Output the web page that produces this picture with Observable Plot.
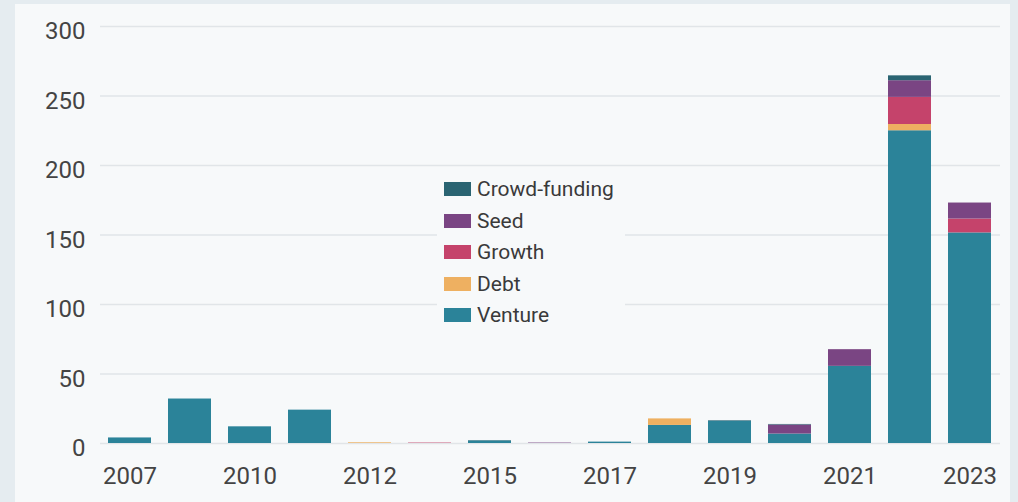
<!DOCTYPE html>
<html>
<head>
<meta charset="utf-8">
<script src="https://cdn.jsdelivr.net/npm/d3@7"></script>
<script src="https://cdn.jsdelivr.net/npm/@observablehq/plot@0.6"></script>
<style>
  html, body { margin: 0; padding: 0; background: #e5ecf0; }
  #wrap { position: relative; width: 1018px; height: 502px; overflow: hidden; }
  #panel { position: absolute; left: 15px; top: 4px; width: 995px; height: 498px; background: #f7f9fa; }
  #chart { position: absolute; left: 0; top: 0; }
  #chart svg { background: transparent; }
  #legend { position: absolute; left: 437px; top: 171px; width: 188px; height: 162px; background: #f7f9fa;
            font-family: Roboto, sans-serif; font-size: 21px; color: #3a3a3a; }
  .row { position: absolute; left: 7px; height: 24px; display: flex; align-items: center; }
  .sw { width: 27px; height: 14px; margin-right: 6px; }
</style>
</head>
<body>
<div id="wrap">
  <div id="panel"></div>
  <div id="chart"></div>
  <div id="legend"></div>
</div>
<script>
const years   = ["2007","2008","2010","2011","2012","2013","2015","2016","2017","2018","2019","2020","2021","2022","2023"];
const xLabels = ["2007","2010","2012","2015","2017","2019","2021","2023"];
const types   = ["Venture","Debt","Growth","Seed","Crowd-funding"];
const colors  = ["#2b8399","#eeb061","#c5436b","#7a4583","#2a6472"];
const venture = [4, 32, 12, 24, 0, 0, 1.8, 0, 1, 13, 16, 6.8, 55.5, 225, 151.5];
const debt    = [0, 0, 0, 0, 0.5, 0, 0, 0, 0, 4.7, 0, 0, 0, 4.5, 0];
const growth  = [0, 0, 0, 0, 0, 0.3, 0, 0, 0, 0, 0, 0, 0, 19.5, 10];
const seed    = [0, 0, 0, 0, 0, 0, 0, 0.3, 0, 0, 0, 6.5, 12, 12, 11.5];
const crowd   = [0, 0, 0, 0, 0, 0, 0.3, 0, 0, 0, 0.4, 0.4, 0, 3.5, 0];
const yTicks  = [0, 50, 100, 150, 200, 250, 300];

const series = {"Venture": venture, "Debt": debt, "Growth": growth, "Seed": seed, "Crowd-funding": crowd};
const data = [];
for (const t of types) {
  series[t].forEach((v, i) => { data.push({year: years[i], type: t, value: v}); });
}

const chart = Plot.plot({
  width: 1018,
  height: 502,
  marginLeft: 100,
  marginRight: 18,
  marginTop: 26,
  marginBottom: 59,
  style: {fontFamily: "Roboto, sans-serif", fontSize: "24px", color: "#444", background: "transparent"},
  x: {type: "band", domain: years, paddingInner: 0.28, paddingOuter: 0.14, label: null},
  y: {domain: [0, 300], label: null},
  color: {domain: types, range: colors},
  marks: [
    Plot.ruleY(yTicks, {stroke: "#e1e5e8", strokeWidth: 1.3}),
    Plot.barY(data, {x: "year", y: "value", fill: "type", order: types}),
    Plot.axisY({ticks: yTicks, tickSize: 0, tickPadding: 15, dy: 5, label: null}),
    Plot.axisX({ticks: xLabels, tickSize: 0, tickPadding: 23, label: null})
  ]
});
document.getElementById("chart").appendChild(chart);

const legend = document.getElementById("legend");
const legendOrder = types.slice().reverse();
legendOrder.forEach((t, i) => {
  const row = document.createElement("div");
  row.className = "row";
  row.style.top = (6 + i * 31.5) + "px";
  const sw = document.createElement("div");
  sw.className = "sw";
  sw.style.background = colors[types.indexOf(t)];
  const lab = document.createElement("span");
  lab.textContent = t;
  row.appendChild(sw);
  row.appendChild(lab);
  legend.appendChild(row);
});
</script>
</body>
</html>
